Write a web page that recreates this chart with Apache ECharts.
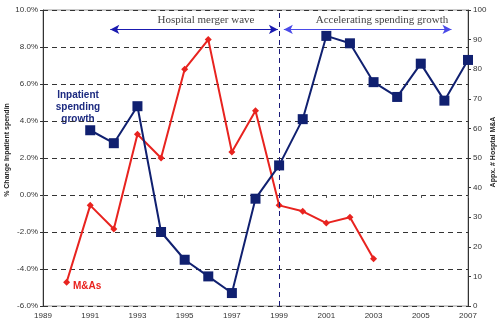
<!DOCTYPE html>
<html>
<head>
<meta charset="utf-8">
<script src="https://cdn.jsdelivr.net/npm/echarts@6/dist/echarts.min.js"></script>
<style>
  html, body { margin: 0; padding: 0; background: #fff; }
  #chart { width: 500px; height: 325px; }
</style>
</head>
<body>
<div id="chart"></div>
<script>
// Inpatient spending growth (% change, left axis)
const spendYears = [1991, 1992, 1993, 1994, 1995, 1996, 1997, 1998, 1999, 2000, 2001, 2002, 2003, 2004, 2005, 2006, 2007];
const spendGrowth = [3.5, 2.8, 4.8, -2.0, -3.5, -4.4, -5.3, -0.2, 1.6, 4.1, 8.6, 8.2, 6.1, 5.3, 7.1, 5.1, 7.3];

// Approximate number of hospital M&As (right axis)
const maYears = [1990, 1991, 1992, 1993, 1994, 1995, 1996, 1997, 1998, 1999, 2000, 2001, 2002, 2003];
const maCount = [8, 34, 26, 58, 50, 80, 90, 52, 66, 34, 32, 28, 30, 16];

// Axis titles
const leftTitle = '% Change Inpatient spendin';
const rightTitle = 'Appx. # Hosptal M&A';

// Period annotations
const periodBreak = 1999;
const mergerWave = { label: 'Hospital merger wave', from: 1991.85, to: 1998.95 };
const accelerating = { label: 'Accelerating spending growth', from: 1999.2, to: 2006.3 };
const arrowLevel = 8.95;

const navy = '#102070';
const red = '#e8231f';
const labelFont = 'Liberation Sans, Arial, sans-serif';
const titleFont = 'bold 7px "Liberation Sans", Arial, sans-serif';

const chart = echarts.init(document.getElementById('chart'), null, { renderer: 'canvas' });

const zip = (xs, ys) => xs.map((x, i) => [x, ys[i]]);

chart.setOption({
  animation: false,
  backgroundColor: '#fff',
  grid: {
    left: 43, right: 32, top: 10, bottom: 19,
    containLabel: false, outerBoundsMode: 'none',
    show: true, borderColor: '#999', borderWidth: 1
  },
  xAxis: {
    type: 'value', min: 1989, max: 2007, interval: 2,
    axisLine: { show: false },
    axisTick: { show: true, length: 3, inside: false, lineStyle: { color: '#555' } },
    axisLabel: { color: '#333', fontSize: 8, fontFamily: labelFont, margin: 6, formatter: v => String(v) },
    splitLine: { show: false }
  },
  yAxis: [
    {
      type: 'value', min: -6, max: 10, interval: 2,
      axisLine: { show: true, lineStyle: { color: '#333', width: 1 } },
      axisTick: { show: true, length: 3, lineStyle: { color: '#333' } },
      axisLabel: { color: '#333', fontSize: 8, fontFamily: labelFont, margin: 5, formatter: v => v.toFixed(1) + '%' },
      splitLine: { show: true, lineStyle: { color: '#333', type: [5, 4], width: 1 } }
    },
    {
      type: 'value', min: 0, max: 100, interval: 10,
      axisLine: { show: true, lineStyle: { color: '#333', width: 1 } },
      axisTick: { show: true, length: 3, lineStyle: { color: '#333' } },
      axisLabel: { color: '#333', fontSize: 8, fontFamily: labelFont, margin: 5 },
      splitLine: { show: false }
    }
  ],
  series: [
    {
      name: 'M&As',
      type: 'line',
      yAxisIndex: 1,
      data: zip(maYears, maCount),
      symbol: 'diamond', symbolSize: 7,
      lineStyle: { color: red, width: 2 },
      itemStyle: { color: red },
      z: 3
    },
    {
      name: 'Inpatient spending growth',
      type: 'line',
      yAxisIndex: 0,
      data: zip(spendYears, spendGrowth),
      symbol: 'rect', symbolSize: 10,
      lineStyle: { color: navy, width: 2 },
      itemStyle: { color: navy },
      z: 4,
      markLine: {
        silent: true,
        label: { show: false },
        data: [
          [
            { coord: [mergerWave.from, arrowLevel], symbol: 'arrow', symbolSize: [7, 9] },
            { coord: [mergerWave.to, arrowLevel], symbol: 'arrow', symbolSize: [7, 9], lineStyle: { color: '#1a1ab0', width: 1, type: 'solid' }, itemStyle: { color: '#1a1ab0' } }
          ],
          [
            { coord: [accelerating.from, arrowLevel], symbol: 'arrow', symbolSize: [7, 9] },
            { coord: [accelerating.to, arrowLevel], symbol: 'arrow', symbolSize: [7, 9], lineStyle: { color: '#4a4ae8', width: 1, type: 'solid' }, itemStyle: { color: '#4a4ae8' } }
          ],
          [
            { coord: [periodBreak, -6], symbol: 'none' },
            { coord: [periodBreak, 10], symbol: 'none', lineStyle: { color: '#1a1a7a', width: 1, type: [5, 4] } }
          ]
        ]
      }
    }
  ],
  graphic: [
    {
      type: 'text', silent: true, position: [7, 150], rotation: Math.PI / 2,
      style: { text: leftTitle, fill: '#222', font: titleFont, textAlign: 'center', textVerticalAlign: 'middle' }
    },
    {
      type: 'text', silent: true, position: [493, 152], rotation: Math.PI / 2,
      style: { text: rightTitle, fill: '#222', font: titleFont, textAlign: 'center', textVerticalAlign: 'middle' }
    },
    {
      type: 'text', silent: true, position: [206, 20],
      style: { text: mergerWave.label, fill: '#444', font: '11px "Liberation Serif", "Times New Roman", serif', textAlign: 'center', textVerticalAlign: 'middle' }
    },
    {
      type: 'text', silent: true, position: [382, 20],
      style: { text: accelerating.label, fill: '#444', font: '11px "Liberation Serif", "Times New Roman", serif', textAlign: 'center', textVerticalAlign: 'middle' }
    },
    {
      type: 'text', silent: true, position: [78, 107],
      style: { text: 'Inpatient\nspending\ngrowth', fill: '#1c2a80', font: 'bold 10px "Liberation Sans", Arial, sans-serif', textAlign: 'center', textVerticalAlign: 'middle', lineHeight: 12 }
    },
    {
      type: 'text', silent: true, position: [73, 286],
      style: { text: 'M&As', fill: red, font: 'bold 10px "Liberation Sans", Arial, sans-serif', textAlign: 'left', textVerticalAlign: 'middle' }
    }
  ]
});
</script>
</body>
</html>
